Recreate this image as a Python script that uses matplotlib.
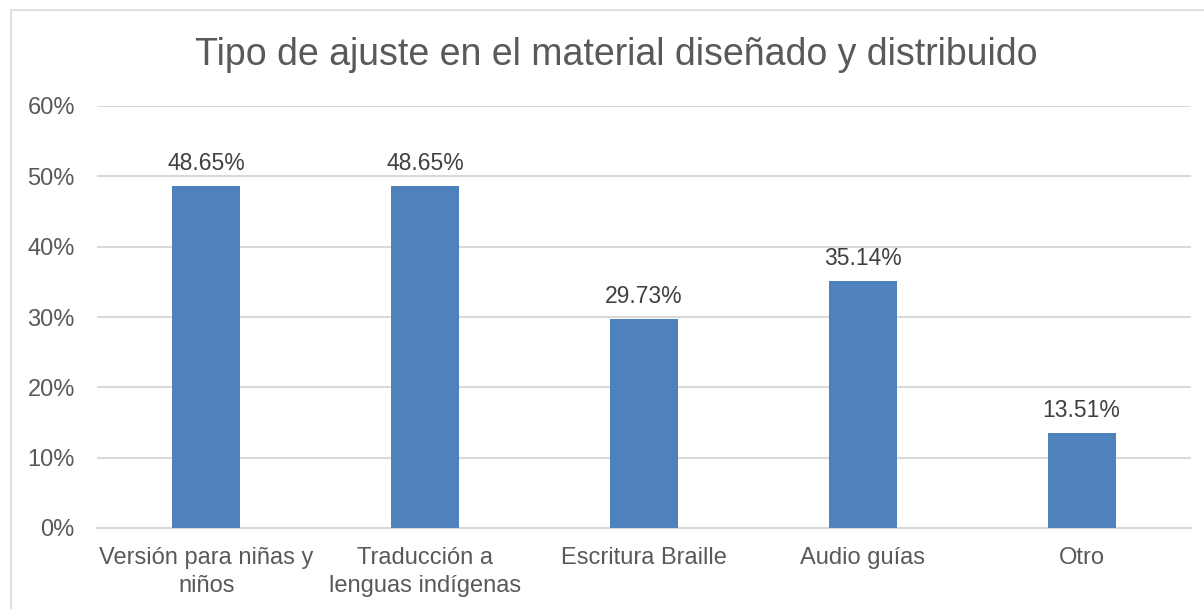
import matplotlib.pyplot as plt
from matplotlib.patches import Rectangle
from matplotlib.ticker import PercentFormatter

# --- DATA ---
categories = ["Versión para niñas y\nniños", "Traducción a\nlenguas indígenas",
              "Escritura Braille", "Audio guías", "Otro"]
values = [48.65, 48.65, 29.73, 35.14, 13.51]
yticks = [0, 10, 20, 30, 40, 50, 60]

BAR_COLOR = "#4F81BD"
GRID_COLOR = "#D9D9D9"
TEXT_COLOR = "#595959"

plt.rcParams['font.family'] = ['Liberation Sans', 'DejaVu Sans']

fig = plt.figure(figsize=(12.04, 6.09), dpi=100)
ax = fig.add_axes([97 / 1204, 1 - 528 / 609, (1191 - 97) / 1204, (528 - 106) / 609])

x = range(len(categories))
bars = ax.bar(x, values, width=0.31, color=BAR_COLOR, zorder=3)

for b, v in zip(bars, values):
    ax.text(b.get_x() + b.get_width() / 2, v + 1.6, f"{v:.2f}%",
            ha='center', va='bottom', fontsize=16.5, color="#404040")

ax.set_ylim(0, 60)
ax.set_xlim(-0.5, len(categories) - 0.5)
ax.set_yticks(yticks)
ax.yaxis.set_major_formatter(PercentFormatter(decimals=0))
ax.set_xticks(list(x))
ax.set_xticklabels(categories, linespacing=1.3)
ax.tick_params(axis='both', length=0, labelsize=17, labelcolor=TEXT_COLOR)
ax.tick_params(axis='y', pad=16)
ax.tick_params(axis='x', pad=14)
ax.grid(axis='y', color=GRID_COLOR, linewidth=1.5, zorder=0)
for s in ['top', 'right', 'left']:
    ax.spines[s].set_visible(False)
ax.spines['bottom'].set_color(GRID_COLOR)
ax.spines['bottom'].set_linewidth(1.5)

fig.text(616 / 1204, 1 - 55 / 609, "Tipo de ajuste en el material diseñado y distribuido",
         ha='center', va='center', fontsize=27, color=TEXT_COLOR)

# chart border (clipped at right/bottom like the reference)
fig.patches.append(Rectangle((11 / 1204, -0.1), 1.2, (609 - 10) / 609 + 0.1,
                             transform=fig.transFigure, fill=False,
                             edgecolor=GRID_COLOR, linewidth=1.2))

fig.savefig("out.png", dpi=100)
